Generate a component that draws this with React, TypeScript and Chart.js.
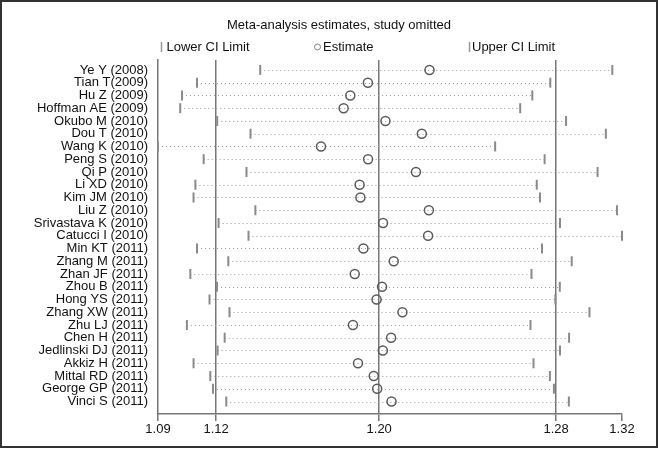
import React, { useEffect, useRef } from "react";
import { Chart, registerables } from "chart.js";

Chart.register(...registerables);

const studies = [
  "Ye Y (2008)", "Tian T(2009)", "Hu Z (2009)", "Hoffman AE (2009)", "Okubo M (2010)",
  "Dou T (2010)", "Wang K (2010)", "Peng S (2010)", "Qi P (2010)", "Li XD (2010)",
  "Kim JM (2010)", "Liu Z (2010)", "Srivastava K (2010)", "Catucci I (2010)", "Min KT (2011)",
  "Zhang M (2011)", "Zhan JF (2011)", "Zhou B (2011)", "Hong YS (2011)", "Zhang XW (2011)",
  "Zhu LJ (2011)", "Chen H (2011)", "Jedlinski DJ (2011)", "Akkiz H (2011)", "Mittal RD (2011)",
  "George GP (2011)", "Vinci S (2011)",
];

const lowerCI = [
  1.1378, 1.1065, 1.0991, 1.0982, 1.1165, 1.1330, 1.0872, 1.1098, 1.1310, 1.1057,
  1.1048, 1.1354, 1.1172, 1.1320, 1.1065, 1.1220, 1.1032, 1.1164, 1.1127, 1.1226,
  1.1015, 1.1202, 1.1167, 1.1048, 1.1131, 1.1144, 1.1210,
];

const estimate = [
  1.2216, 1.1911, 1.1824, 1.1791, 1.1998, 1.2178, 1.1679, 1.1912, 1.2149, 1.1870,
  1.1874, 1.2213, 1.1986, 1.2209, 1.1889, 1.2039, 1.1846, 1.1981, 1.1954, 1.2082,
  1.1837, 1.2026, 1.1985, 1.1862, 1.1940, 1.1957, 1.2028,
];

const upperCI = [
  1.3121, 1.2814, 1.2725, 1.2665, 1.2892, 1.3089, 1.2541, 1.2786, 1.3048, 1.2747,
  1.2763, 1.3144, 1.2862, 1.3169, 1.2773, 1.2920, 1.2721, 1.2861, 1.2839, 1.3008,
  1.2716, 1.2907, 1.2862, 1.2731, 1.2812, 1.2832, 1.2906,
];

const tickValues = [1.0872, 1.1160, 1.1967, 1.2843, 1.3169];
const tickLabels = ["1.09", "1.12", "1.20", "1.28", "1.32"];

const FONT = "'Liberation Sans', Arial, sans-serif";

export default function App() {
  const ref = useRef<HTMLCanvasElement | null>(null);

  useEffect(() => {
    const canvas = ref.current;
    if (!canvas) return;

    const decor = {
      id: "decor",
      beforeDraw(chart: any) {
        const ctx = chart.ctx;
        ctx.save();
        ctx.fillStyle = "#ffffff";
        ctx.fillRect(0, 0, chart.width, chart.height);
        ctx.restore();
      },
      beforeDatasetsDraw(chart: any) {
        const ctx = chart.ctx;
        const xs = chart.scales.x;
        const ys = chart.scales.y;
        ctx.save();
        ctx.strokeStyle = "#9a9a9a";
        ctx.lineWidth = 1;
        ctx.setLineDash([1, 3]);
        for (let i = 0; i < studies.length; i++) {
          const y = Math.round(ys.getPixelForValue(i)) + 0.5;
          ctx.beginPath();
          ctx.moveTo(xs.getPixelForValue(lowerCI[i]), y);
          ctx.lineTo(xs.getPixelForValue(upperCI[i]), y);
          ctx.stroke();
        }
        ctx.restore();
      },
      afterDraw(chart: any) {
        const ctx = chart.ctx;
        ctx.save();
        ctx.fillStyle = "#111";
        ctx.font = `13px ${FONT}`;
        ctx.textBaseline = "middle";
        ctx.textAlign = "center";
        ctx.fillText("Meta-analysis estimates, study omitted", 339, 25);
        ctx.textAlign = "left";
        // legend
        ctx.strokeStyle = "#999";
        ctx.lineWidth = 1.5;
        ctx.beginPath();
        ctx.moveTo(161.5, 42);
        ctx.lineTo(161.5, 52);
        ctx.moveTo(469.5, 42);
        ctx.lineTo(469.5, 52);
        ctx.stroke();
        ctx.lineWidth = 1;
        ctx.strokeStyle = "#888";
        ctx.beginPath();
        ctx.arc(317.5, 47, 3, 0, Math.PI * 2);
        ctx.stroke();
        ctx.fillText("Lower CI Limit", 166.5, 47);
        ctx.fillText("Estimate", 323, 47);
        ctx.fillText("Upper CI Limit", 472, 47);
        // frame
        ctx.strokeStyle = "#333";
        ctx.lineWidth = 2;
        ctx.strokeRect(1, 1, 656, 446);
        ctx.restore();
      },
    };

    const chart = new Chart(canvas, {
      type: "scatter",
      data: {
        datasets: [
          {
            label: "Estimate",
            data: estimate.map((v, i) => ({ x: v, y: i })),
            pointStyle: "circle",
            pointRadius: 4.5,
            pointBorderWidth: 1.5,
            pointBorderColor: "#5a5a5a",
            pointBackgroundColor: "rgba(0,0,0,0)",
            clip: false,
          } as any,
          {
            label: "Lower CI Limit",
            data: lowerCI.map((v, i) => ({ x: v, y: i })),
            pointStyle: "line",
            pointRotation: 90,
            pointRadius: 5,
            pointBorderWidth: 2,
            pointBorderColor: "#8a8a8a",
            clip: false,
          } as any,
          {
            label: "Upper CI Limit",
            data: upperCI.map((v, i) => ({ x: v, y: i })),
            pointStyle: "line",
            pointRotation: 90,
            pointRadius: 5,
            pointBorderWidth: 2,
            pointBorderColor: "#8a8a8a",
            clip: false,
          } as any,
        ],
      },
      options: {
        animation: false,
        responsive: false,
        events: [],
        layout: { padding: { top: 60, right: 37, left: 0, bottom: 0 } },
        plugins: {
          legend: { display: false },
          tooltip: { enabled: false },
          title: { display: false },
        },
        scales: {
          x: {
            type: "linear",
            min: tickValues[0],
            max: tickValues[tickValues.length - 1],
            afterBuildTicks: (scale: any) => {
              scale.ticks = tickValues.map((v) => ({ value: v }));
            },
            afterFit: (scale: any) => {
              scale.height = 36;
            },
            ticks: {
              autoSkip: false,
              maxRotation: 0,
              padding: 1,
              color: "#111",
              font: { family: FONT, size: 13 },
              callback: (_v: any, idx: number) => tickLabels[idx],
            },
            grid: {
              drawOnChartArea: true,
              drawTicks: true,
              tickLength: 7,
              lineWidth: 1.5,
              color: (c: any) =>
                c.index > 0 && c.index < tickValues.length - 1 ? "#777" : "rgba(0,0,0,0)",
              tickColor: "#777",
            },
            border: { display: true, color: "#777", width: 1.5 },
          },
          y: {
            type: "linear",
            reverse: true,
            min: -0.78,
            max: 26.98,
            afterBuildTicks: (scale: any) => {
              scale.ticks = studies.map((_s, i) => ({ value: i }));
            },
            afterFit: (scale: any) => {
              scale.width = 158;
            },
            ticks: {
              autoSkip: false,
              padding: 10,
              color: "#111",
              font: { family: FONT, size: 13 },
              callback: (v: any) => studies[Math.round(Number(v))] ?? "",
            },
            grid: { display: false, drawTicks: false },
            border: { display: true, color: "#777", width: 1.5 },
          },
        },
      } as any,
      plugins: [decor],
    });

    return () => chart.destroy();
  }, []);

  return (
    <div style={{ position: "fixed", left: 0, top: 0, width: 659, height: 450, background: "#fff" }}>
      <canvas ref={ref} width={659} height={450} style={{ width: 659, height: 450, display: "block" }} />
    </div>
  );
}
